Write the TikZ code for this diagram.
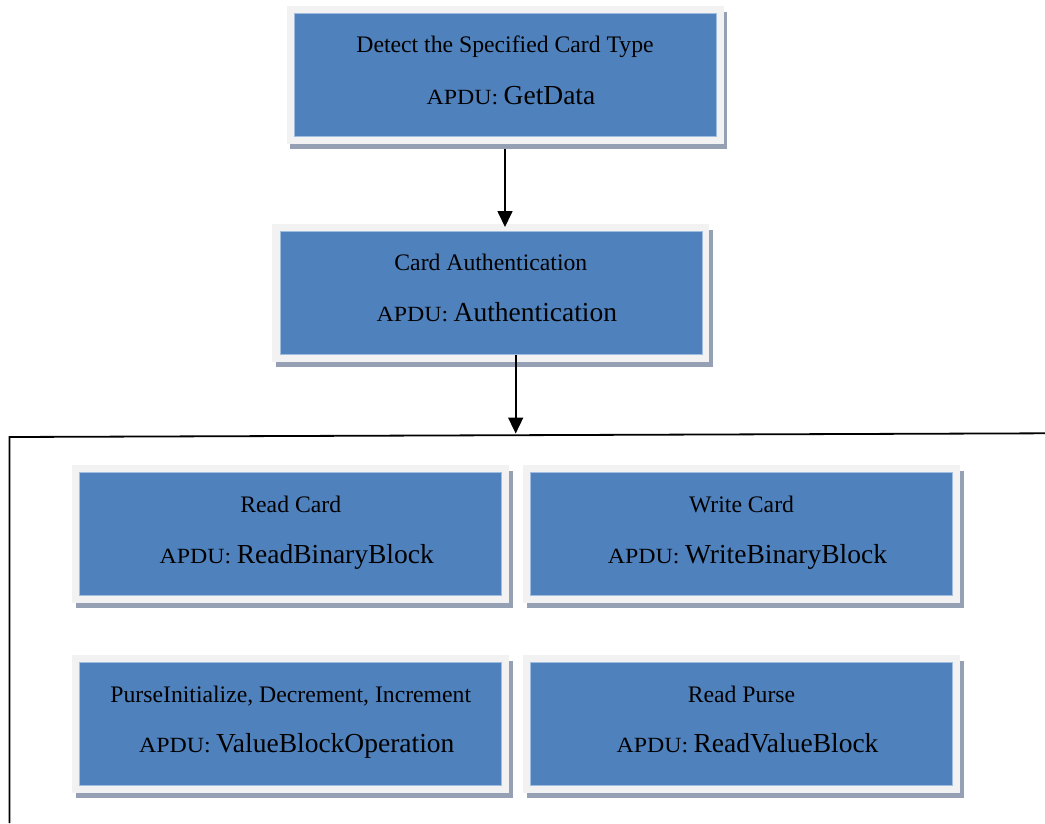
\documentclass[tikz,border=0pt]{standalone}
\usepackage{fontspec}
\usepackage{graphicx}
\setmainfont{Liberation Serif}
\usetikzlibrary{shadows,arrows.meta,calc}
\definecolor{boxblue}{RGB}{79,129,189}
\definecolor{framegray}{RGB}{242,242,242}
\definecolor{shadowgray}{RGB}{149,160,180}
\definecolor{edgeblue}{RGB}{160,188,222}
\newcommand\topline[1]{{\fontsize{23.7}{26}\selectfont #1}}
\newcommand\apduline[1]{{\fontsize{21.7}{24}\selectfont\scalebox{1.1}[1]{APDU:} }{\fontsize{27.5}{30}\selectfont #1}}
\tikzset{
  framebox/.style={rectangle, fill=framegray, inner sep=0pt, outer sep=0pt,
    minimum width=437pt, minimum height=137.5pt,
    drop shadow={shadow xshift=3.5pt, shadow yshift=-5.5pt, fill=shadowgray, opacity=1}},
  bluebox/.style={rectangle, fill=boxblue, draw=edgeblue, line width=0.6pt,
    inner sep=0pt, outer sep=0pt, minimum width=422pt, minimum height=122.5pt},
  txt/.style={anchor=base, inner sep=0pt, text=black},
  arr/.style={line width=1.7pt, -{Triangle[width=15pt,length=16pt]}},
  rule/.style={line width=1.8pt, black}
}
\begin{document}
\begin{tikzpicture}[x=1pt,y=-1pt]
\useasboundingbox (0,0) rectangle (1045,823);
% frames
\node[framebox] (f1) at (505,75) {};
\node[bluebox] (b1) at (505,75) {};
\node[framebox] (f2) at (490.85,292.85) {};
\node[bluebox] (b2) at (490.85,292.85) {};
\node[framebox] (f3) at (290.75,533.75) {};
\node[bluebox] (b3) at (290.75,533.75) {};
\node[framebox] (f4) at (741.5,533.75) {};
\node[bluebox] (b4) at (741.5,533.75) {};
\node[framebox] (f5) at (290.75,723.85) {};
\node[bluebox] (b5) at (290.75,723.85) {};
\node[framebox] (f6) at (741.5,723.85) {};
\node[bluebox] (b6) at (741.5,723.85) {};
% texts
\node[txt] (t1) at ($(b1.north)+(0,39)$) {\topline{Detect the Specified Card Type}};
\node[txt] (a1) at ($(b1.north)+(6,90.5)$) {\apduline{GetData}};
\node[txt] (t2) at ($(b2.north)+(0,38.5)$) {\topline{Card Authentication}};
\node[txt] (a2) at ($(b2.north)+(6,90)$) {\apduline{Authentication}};
\node[txt] (t3) at ($(b3.north)+(0,39.5)$) {\topline{Read Card}};
\node[txt] (a3) at ($(b3.north)+(6,91)$) {\apduline{ReadBinaryBlock}};
\node[txt] (t4) at ($(b4.north)+(0,39.5)$) {\topline{Write Card}};
\node[txt] (a4) at ($(b4.north)+(6,91)$) {\apduline{WriteBinaryBlock}};
\node[txt] (t5) at ($(b5.north)+(0,39.5)$) {\topline{PurseInitialize, Decrement, Increment}};
\node[txt] (a5) at ($(b5.north)+(6,90)$) {\apduline{ValueBlockOperation}};
\node[txt] (t6) at ($(b6.north)+(0,39.5)$) {\topline{Read Purse}};
\node[txt] (a6) at ($(b6.north)+(6,90)$) {\apduline{ReadValueBlock}};
% group outline
\coordinate (gr) at (1045,433.3);
\coordinate (gl) at (9.5,437);
\coordinate (gb) at (9.5,823);
\draw[rule] (gr) -- (gl) -- (gb);
% arrows
\coordinate (s1) at (505,149.3);
\coordinate (e1) at (505,227);
\draw[arr] (s1) -- (e1);
\coordinate (s2) at (515.7,355);
\coordinate (e2) at (515.7,433.5);
\draw[arr] (s2) -- (e2);
\end{tikzpicture}
\end{document}
